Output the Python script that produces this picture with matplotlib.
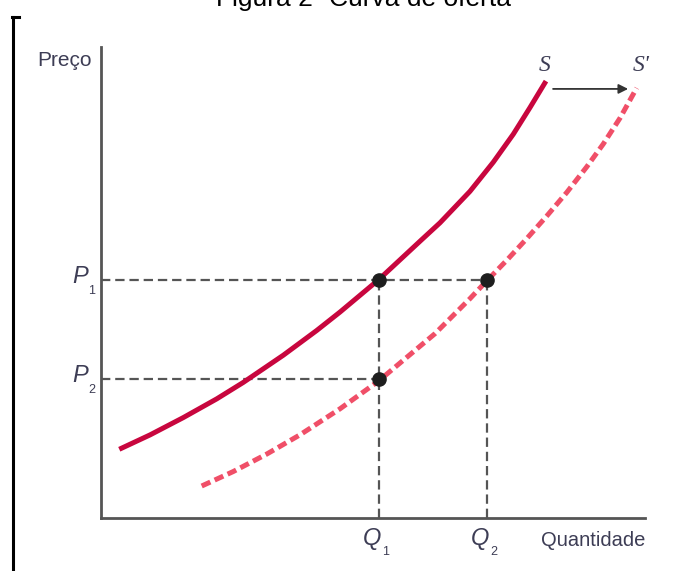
import matplotlib.pyplot as plt
from matplotlib.lines import Line2D

# curva S (oferta original)
s_q = [0.336, 0.901, 1.513, 2.127, 2.616, 3.351, 3.965, 4.393, 5.103,
       5.890, 6.232, 6.783, 7.211, 7.579, 7.886, 8.180]
s_p = [1.459, 1.764, 2.132, 2.529, 2.879, 3.456, 3.981, 4.372, 5.059,
       5.904, 6.268, 6.936, 7.554, 8.149, 8.715, 9.276]

# curva S' (oferta deslocada)
s2_q = [1.851, 2.432, 3.046, 3.658, 4.393, 5.103, 6.140, 6.783, 7.090,
        7.458, 7.825, 8.193, 8.561, 8.928, 9.233, 9.540, 9.847]
s2_p = [0.679, 0.987, 1.357, 1.766, 2.318, 2.909, 3.915, 4.658, 5.034,
        5.471, 5.930, 6.410, 6.911, 7.454, 7.941, 8.490, 9.130]

# equilibrios
q1, q2 = 5.11, 7.10
p1, p2 = 5.05, 2.95
pts_q = [q1, q2, q1]
pts_p = [p1, p1, p2]

W, H = 700, 571
fig = plt.figure(figsize=(7, 5.71), dpi=100)
ax = fig.add_axes([101 / W, (H - 518) / H, 544 / W, 471 / H])
ax.set_xlim(0, 10)
ax.set_ylim(0, 10)
for s in ['top', 'right']:
    ax.spines[s].set_visible(False)
for s in ['left', 'bottom']:
    ax.spines[s].set_color('#555555')
    ax.spines[s].set_linewidth(2)
ax.set_xticks([])
ax.set_yticks([])
ax.patch.set_alpha(0)

grey = '#555555'
dash = dict(color=grey, lw=1.6, dashes=(4.2, 2.2))
ax.plot([0, q2], [p1, p1], **dash)
ax.plot([0, q1], [p2, p2], **dash)
ax.plot([q1, q1], [0, p1], **dash)
ax.plot([q2, q2], [0, p1], **dash)

ax.plot(s_q, s_p, color='#c8063e', lw=3.6, solid_capstyle='butt', solid_joinstyle='round')
ax.plot(s2_q, s2_p, color='#f04f68', lw=3.6, dashes=(1.9, 0.95))

ax.plot(pts_q, pts_p, 'o', color='#1e1e1e', ms=9.5, zorder=5)

# seta do deslocamento
ax.annotate('', xy=(9.69, 9.11), xytext=(8.31, 9.11),
            arrowprops=dict(arrowstyle='-|>', color='#333333', lw=1.3,
                            mutation_scale=14, shrinkA=0, shrinkB=0))

sans = ['Liberation Sans', 'DejaVu Sans']
lab = '#3d3d55'
ax.text(-0.17, 9.72, 'Preço', ha='right', va='center', fontsize=15,
        family=sans, color=lab)
ax.text(8.09, -0.47, 'Quantidade', ha='left', va='center', fontsize=14.5,
        family=sans, color=lab)

for sub, y in [('1', p1), ('2', p2)]:
    ax.text(-0.24, y + 0.08, 'P', ha='right', va='center', fontsize=17,
            family=sans, style='italic', color=lab)
    ax.text(-0.23, y - 0.24, sub, ha='left', va='center', fontsize=9,
            family=sans, color=lab)
for sub, x in [('1', q1), ('2', q2)]:
    ax.text(x + 0.04, -0.44, 'Q', ha='right', va='center', fontsize=17,
            family=sans, style='italic', color=lab)
    ax.text(x + 0.05, -0.72, sub, ha='left', va='center', fontsize=9,
            family=sans, color=lab)

serif = ['Liberation Serif', 'DejaVu Serif']
ax.text(8.16, 9.6, 'S', ha='center', va='center', fontsize=17,
        family=serif, style='italic', color=lab)
ax.text(9.93, 9.6, "S'", ha='center', va='center', fontsize=17,
        family=serif, style='italic', color=lab)

# titulo cortado no topo e moldura a esquerda
fig.text(364 / W, 1 - 6 / H, 'Figura 2- Curva de oferta', ha='center',
         va='baseline', fontsize=19, family=sans)
fig.add_artist(Line2D([12.5 / W, 12.5 / W], [0, 1 - 17 / H], color='black', lw=2.2,
                      transform=fig.transFigure))
fig.add_artist(Line2D([12 / W, 19 / W], [1 - 17 / H, 1 - 17 / H], color='black',
                      lw=2.2, transform=fig.transFigure))

fig.savefig('out.png', dpi=100)
